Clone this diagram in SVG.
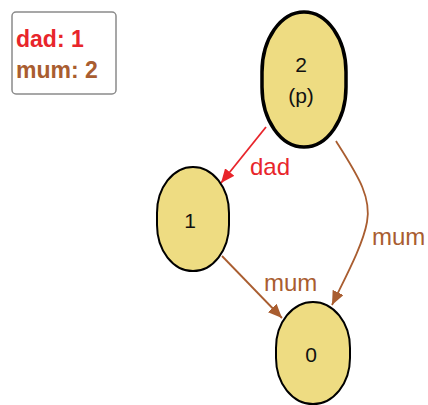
<svg xmlns="http://www.w3.org/2000/svg" width="428" height="405" viewBox="0 0 428 405">
  <style>
    .node rect { fill: #eedc82; stroke: #000; stroke-width: 2; }
    .node text { font-family: "Liberation Sans", Arial, sans-serif; font-size: 21px; fill: #111; text-anchor: middle; }
    .edge { fill: none; stroke-width: 1.8; }
    .dad { stroke: #e8252b; }
    .mum { stroke: #a95d30; }
    .elabel { font-family: "Liberation Sans", Arial, sans-serif; font-size: 24px; }
    .legend text { font-family: "Liberation Sans", Arial, sans-serif; font-size: 23px; font-weight: bold; }
  </style>
  <defs>
    <marker id="arrow-dad" markerUnits="userSpaceOnUse" markerWidth="15" markerHeight="12" refX="14" refY="6" orient="auto">
      <path d="M0,0 L14,6 L0,12 z" fill="#e8252b"/>
    </marker>
    <marker id="arrow-mum" markerUnits="userSpaceOnUse" markerWidth="15" markerHeight="12" refX="14" refY="6" orient="auto">
      <path d="M0,0 L14,6 L0,12 z" fill="#a95d30"/>
    </marker>
  </defs>

  <!-- legend -->
  <g id="legend" class="legend">
    <rect x="12" y="12" width="104" height="82" rx="4" fill="#fff" stroke="#8a8a8a" stroke-width="1.5"/>
    <text x="16" y="47" fill="#e8252b">dad: 1</text>
    <text x="16" y="78" fill="#a95d30">mum: 2</text>
  </g>

  <!-- connectors -->
  <g id="edges">
    <path class="edge dad" d="M266,127 L221,183" marker-end="url(#arrow-dad)"/>
    <text class="elabel" x="250" y="175" fill="#e8252b">dad</text>
    <path class="edge mum" d="M336,141 C355,172 372,195 367,222 C363,245 345,278 332,305" marker-end="url(#arrow-mum)"/>
    <text class="elabel" x="372" y="245" fill="#a95d30">mum</text>
    <path class="edge mum" d="M222,256 L282,318" marker-end="url(#arrow-mum)"/>
    <text class="elabel" x="264" y="291" fill="#a95d30">mum</text>
  </g>

  <!-- nodes -->
  <g id="node2" class="node">
    <rect x="262" y="12" width="84" height="135" rx="42" ry="60" style="stroke-width:3.5"/>
    <text x="301" y="72">2</text>
    <text x="301" y="103">(p)</text>
  </g>
  <g id="node1" class="node">
    <rect x="157" y="167" width="72" height="104" rx="36" ry="46"/>
    <text x="190" y="228">1</text>
  </g>
  <g id="node0" class="node">
    <rect x="276" y="302" width="74" height="102" rx="37" ry="46"/>
    <text x="311" y="362">0</text>
  </g>
</svg>
